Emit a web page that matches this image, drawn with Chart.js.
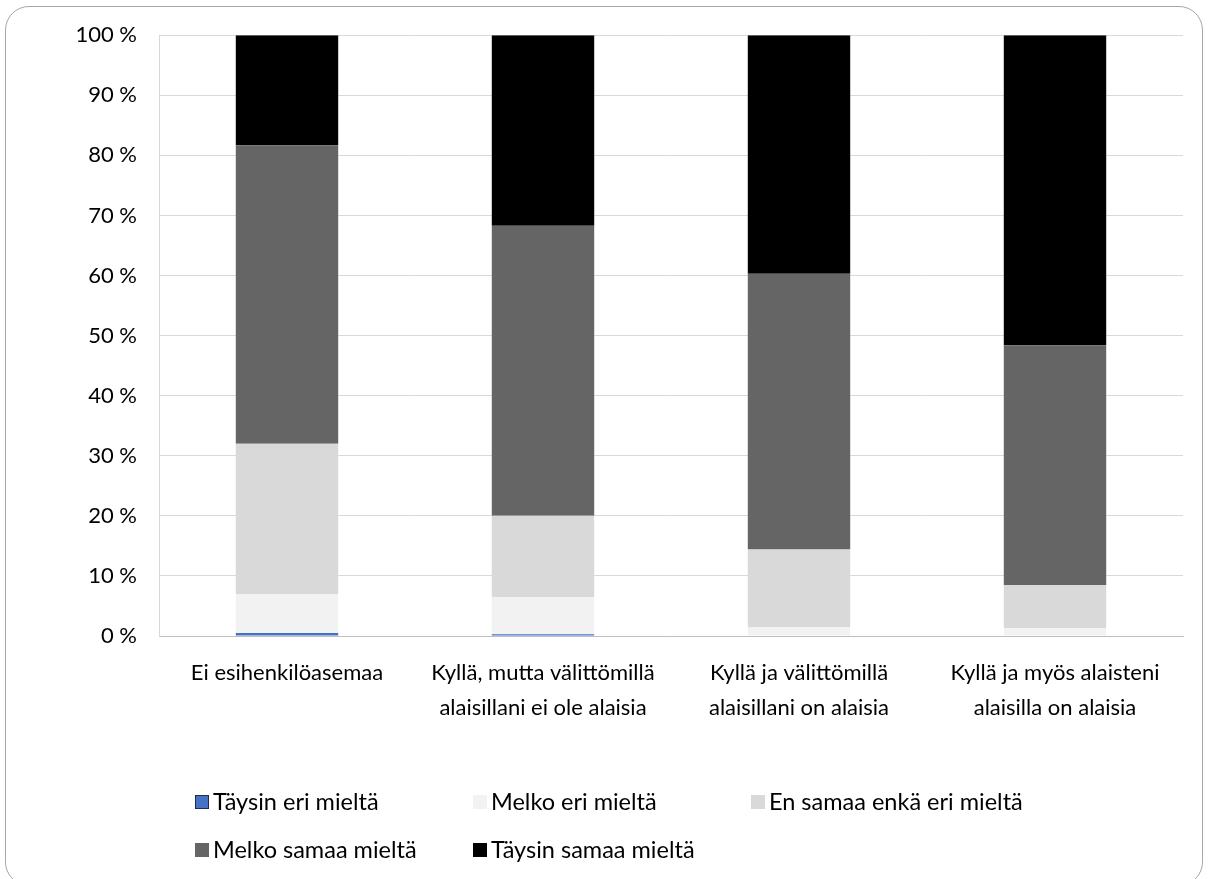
<!DOCTYPE html>
<html>
<head>
<meta charset="utf-8">
<script src="https://cdn.jsdelivr.net/npm/chart.js@4"></script>
<style>
    html, body { margin: 0; padding: 0; background: #fff; overflow: hidden; }
    #wrap { position: relative; width: 1209px; height: 879px; }
    #frame {
        position: absolute; left: 5px; top: 6px; width: 1198px; height: 880px;
        border: 1px solid #a6a6a6; border-radius: 24px; box-sizing: border-box;
    }
    canvas { position: absolute; left: 0; top: 0; }
</style>
</head>
<body>
<div id="wrap">
    <div id="frame"></div>
    <canvas id="kaavio" width="1209" height="879"></canvas>
</div>
<script>
const kategoriat = [
    'Ei esihenkilöasemaa',
    ['Kyllä, mutta välittömillä', 'alaisillani ei ole alaisia'],
    ['Kyllä ja välittömillä', 'alaisillani on alaisia'],
    ['Kyllä ja myös alaisteni', 'alaisilla on alaisia']
];
const taysinEri = [0.5, 0.3, 0, 0];
const melkoEri = [6.5, 6.2, 1.5, 1.3];
const enSamaa = [25.0, 13.5, 12.9, 7.2];
const melkoSamaa = [49.7, 48.3, 45.9, 39.9];
const taysinSamaa = [18.3, 31.7, 39.7, 51.6];
const ytikit = ['0 %', '10 %', '20 %', '30 %', '40 %', '50 %', '60 %', '70 %', '80 %', '90 %', '100 %'];

const fontti = 'Lato, "Open Sans", sans-serif';

const sarjat = [
    { label: 'Täysin eri mieltä', data: taysinEri, backgroundColor: '#4472c4', reuna: '#1f2d4d' },
    { label: 'Melko eri mieltä', data: melkoEri, backgroundColor: '#f2f2f2', reuna: '#f2f2f2' },
    { label: 'En samaa enkä eri mieltä', data: enSamaa, backgroundColor: '#d9d9d9', reuna: '#d9d9d9' },
    { label: 'Melko samaa mieltä', data: melkoSamaa, backgroundColor: '#656565', reuna: '#656565' },
    { label: 'Täysin samaa mieltä', data: taysinSamaa, backgroundColor: '#000000', reuna: '#000000' }
];

// oma selite kahdelle riville, kolme saraketta
const selitePlugin = {
    id: 'selite',
    afterDraw(chart) {
        const c = chart.ctx;
        const vasen = chart.chartArea.left + 36;
        const vali = 278;
        c.save();
        c.font = '23.5px ' + fontti;
        c.textBaseline = 'middle';
        c.textAlign = 'left';
        sarjat.forEach((s, i) => {
            const x = vasen + (i % 3) * vali;
            const y = 802 + Math.floor(i / 3) * 48;
            c.fillStyle = s.backgroundColor;
            c.fillRect(x, y - 7, 14, 14);
            if (i === 0) {
                c.strokeStyle = s.reuna;
                c.lineWidth = 1;
                c.strokeRect(x + 0.5, y - 6.5, 13, 13);
            }
            c.fillStyle = '#000';
            c.fillText(s.label, x + 18, y);
        });
        c.restore();
    }
};

new Chart(document.getElementById('kaavio'), {
    type: 'bar',
    data: {
        labels: kategoriat,
        datasets: sarjat.map(s => ({
            label: s.label,
            data: s.data,
            backgroundColor: s.backgroundColor,
            borderWidth: 0,
            categoryPercentage: 1,
            barPercentage: 0.40
        }))
    },
    options: {
        responsive: false,
        animation: false,
        layout: { padding: { top: 34, right: 26, left: 0, bottom: 0 } },
        plugins: {
            legend: { display: false },
            tooltip: { enabled: false }
        },
        scales: {
            x: {
                stacked: true,
                grid: { display: false },
                border: { color: '#bfbfbf', width: 1 },
                ticks: {
                    color: '#000',
                    font: { family: fontti, size: 22, lineHeight: 1.6 },
                    padding: 11,
                    maxRotation: 0,
                    autoSkip: false
                },
                afterFit(scale) { scale.height = 243; }
            },
            y: {
                stacked: true,
                min: 0,
                max: 100,
                grid: { color: '#d9d9d9', drawTicks: false },
                border: { color: '#d9d9d9', width: 1 },
                ticks: {
                    stepSize: 10,
                    color: '#000',
                    font: { family: fontti, size: 22 },
                    padding: 22,
                    callback: (v) => ytikit[v / 10]
                },
                afterFit(scale) { scale.width = 159; }
            }
        }
    },
    plugins: [selitePlugin]
});
</script>
</body>
</html>
